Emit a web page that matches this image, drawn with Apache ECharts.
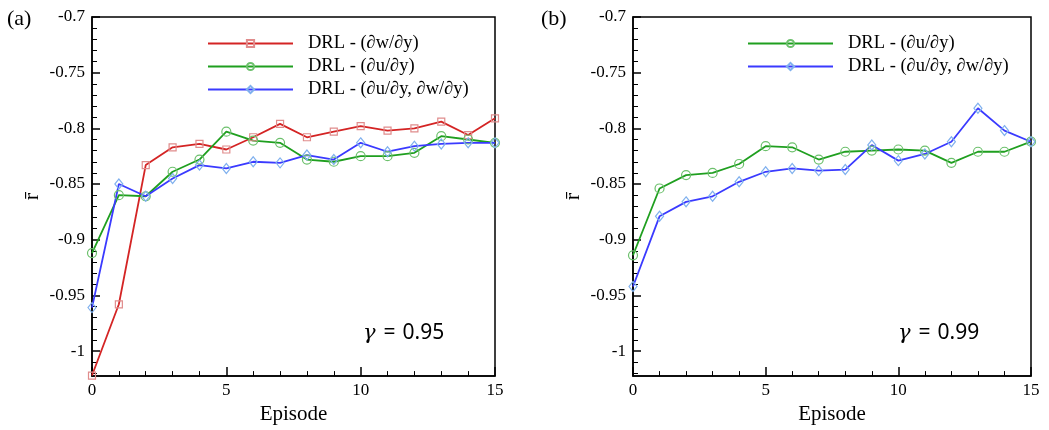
<!DOCTYPE html>
<html>
<head>
<meta charset="utf-8">
<script src="https://cdn.jsdelivr.net/npm/echarts@6/dist/echarts.min.js"></script>
<style>
html,body{margin:0;padding:0;background:#fff;}
#c{width:1049px;height:430px;}
</style>
</head>
<body>
<div id="c"></div>
<script>
// ---- data ----
const episodes = [0,1,2,3,4,5,6,7,8,9,10,11,12,13,14,15];
const xTicks = [0,5,10,15];
const yTicks = [-1, -0.95, -0.9, -0.85, -0.8, -0.75, -0.7];

const aDwdy   = [-1.022,-0.958,-0.833,-0.817,-0.814,-0.819,-0.808,-0.796,-0.808,-0.803,-0.798,-0.802,-0.800,-0.794,-0.806,-0.791];
const aDudy   = [-0.912,-0.860,-0.861,-0.839,-0.828,-0.803,-0.811,-0.813,-0.828,-0.830,-0.825,-0.825,-0.822,-0.807,-0.810,-0.813];
const aDudyDw = [-0.961,-0.850,-0.861,-0.845,-0.833,-0.836,-0.830,-0.831,-0.824,-0.828,-0.813,-0.821,-0.816,-0.814,-0.813,-0.813];

const bDudy   = [-0.914,-0.854,-0.842,-0.840,-0.832,-0.816,-0.817,-0.828,-0.821,-0.820,-0.819,-0.820,-0.831,-0.821,-0.821,-0.812];
const bDudyDw = [-0.942,-0.879,-0.866,-0.861,-0.848,-0.839,-0.836,-0.838,-0.837,-0.815,-0.829,-0.823,-0.812,-0.782,-0.802,-0.812];

const names = ['DRL - (\u2202w/\u2202y)', 'DRL - (\u2202u/\u2202y)', 'DRL - (\u2202u/\u2202y, \u2202w/\u2202y)'];
const panelLabels = ['(a)', '(b)'];
const gammaLabels = ['0.95', '0.99'];

// ---- build ----
const yMin = -1.0225, yMax = -0.7;
const minorY = [];
for (let i = 0; i < yTicks.length; i++) {
  const base = yTicks[i];
  for (let k = -4; k <= 4; k++) {
    if (k === 0) continue;
    const v = +(base + k * 0.01).toFixed(4);
    if (v > yMin && v < yMax && minorY.indexOf(v) < 0 && yTicks.indexOf(v) < 0) minorY.push(v);
  }
}

const SERIF = 'Liberation Serif';
const pair = arr => episodes.map((e, i) => [e, arr[i]]);

const styles = {
  red:   {line:'#d42424', mark:'#e08c8c', symbol:'rect', size:7},
  green: {line:'#1f9f1f', mark:'#6cc06c', symbol:'circle', size:9},
  blue:  {line:'#3a3aff', mark:'#7fb0ee', symbol:'diamond', size:[8,10]}
};

function mkSeries(name, arr, st, gi) {
  return {
    name: name, type: 'line', data: pair(arr),
    xAxisIndex: gi, yAxisIndex: gi * 2,
    symbol: st.symbol, symbolSize: st.size,
    lineStyle: {color: st.line, width: 1.8},
    itemStyle: {color: 'rgba(255,255,255,0)', borderColor: st.mark, borderWidth: 1.2},
    emphasis: {disabled: true},
    animation: false, z: 3
  };
}

const grids = [
  {left: 92, right: 554, top: 17, bottom: 46, show: true, borderColor: '#000', borderWidth: 1.5, backgroundColor: 'transparent'},
  {left: 633, right: 18, top: 17, bottom: 46, show: true, borderColor: '#000', borderWidth: 1.5, backgroundColor: 'transparent'}
];

const labelStyle = {fontFamily: SERIF, fontSize: 17, color: '#000', fontWeight: 'normal'};

function xAx(gi) {
  return {
    type: 'value', gridIndex: gi, min: 0, max: 15, interval: 5,
    name: 'Episode', nameLocation: 'middle', nameGap: 25,
    nameTextStyle: {fontFamily: SERIF, fontSize: 21, color: '#000'},
    axisLine: {show: true, lineStyle: {color: '#000', width: 1.5}},
    axisTick: {show: true, inside: true, length: 9, lineStyle: {color: '#000', width: 1.5}},
    minorTick: {show: true, splitNumber: 5, length: 5, lineStyle: {color: '#000', width: 1}},
    axisLabel: Object.assign({margin: 6}, labelStyle),
    splitLine: {show: false}
  };
}
function yAx(gi) {
  return [{
    type: 'value', gridIndex: gi, min: yMin, max: yMax,
    name: 'r\u0304', nameLocation: 'middle', nameGap: 49, nameRotate: 90,
    nameTextStyle: {fontFamily: SERIF, fontSize: 22, color: '#000'},
    axisLine: {show: true, lineStyle: {color: '#000', width: 1.5}},
    axisTick: {show: true, inside: true, length: 8, lineStyle: {color: '#000', width: 1.5}, customValues: yTicks},
    axisLabel: Object.assign({margin: 7, customValues: yTicks, formatter: v => String(v)}, labelStyle),
    splitLine: {show: false}
  }, {
    type: 'value', gridIndex: gi, min: yMin, max: yMax, position: 'left',
    axisLine: {show: false},
    axisTick: {show: true, inside: true, length: 5, lineStyle: {color: '#000', width: 1}, customValues: minorY},
    axisLabel: {show: false},
    splitLine: {show: false}
  }];
}

function legendCfg(list, left) {
  return {
    data: list.map(n => ({name: n})), left: left, top: 29, orient: 'vertical',
    itemWidth: 85, itemHeight: 9, itemGap: 4,
    textStyle: {fontFamily: SERIF, fontSize: 18.5, color: '#000', padding: [0,0,0,10]},
    selectedMode: false
  };
}

const gammaRich = {
  g: {fontFamily: 'DejaVu Serif', fontStyle: 'italic', fontSize: 21, fill: '#000'},
  e: {fontFamily: 'Noto Sans', fontSize: 21, fill: '#000', padding: [0, 7, 0, 8]},
  n: {fontFamily: 'Noto Sans', fontSize: 21, fill: '#000'}
};

const option = {
  backgroundColor: '#fff',
  animation: false,
  textStyle: {fontFamily: SERIF, color: '#000'},
  grid: grids,
  xAxis: [xAx(0), xAx(1)],
  yAxis: [...yAx(0), ...yAx(1)],
  legend: [legendCfg(names, 202), legendCfg([names[1], names[2]], 742)],
  series: [
    mkSeries(names[0], aDwdy, styles.red, 0),
    mkSeries(names[1], aDudy, styles.green, 0),
    mkSeries(names[2], aDudyDw, styles.blue, 0),
    mkSeries(names[1], bDudy, styles.green, 1),
    mkSeries(names[2], bDudyDw, styles.blue, 1)
  ],
  graphic: [
    {type: 'text', left: 7, top: 8, style: {text: panelLabels[0], fontFamily: SERIF, fontSize: 22, fill: '#000'}},
    {type: 'text', left: 541, top: 8, style: {text: panelLabels[1], fontFamily: SERIF, fontSize: 22, fill: '#000'}},
    {type: 'text', left: 363, top: 323, style: {
      text: '{g|\u03B3}{e|=}{n|' + gammaLabels[0] + '}', rich: gammaRich}},
    {type: 'text', left: 898, top: 323, style: {
      text: '{g|\u03B3}{e|=}{n|' + gammaLabels[1] + '}', rich: gammaRich}}
  ]
};

const chart = echarts.init(document.getElementById('c'), null, {renderer: 'canvas'});
chart.setOption(option);
</script>
</body>
</html>
